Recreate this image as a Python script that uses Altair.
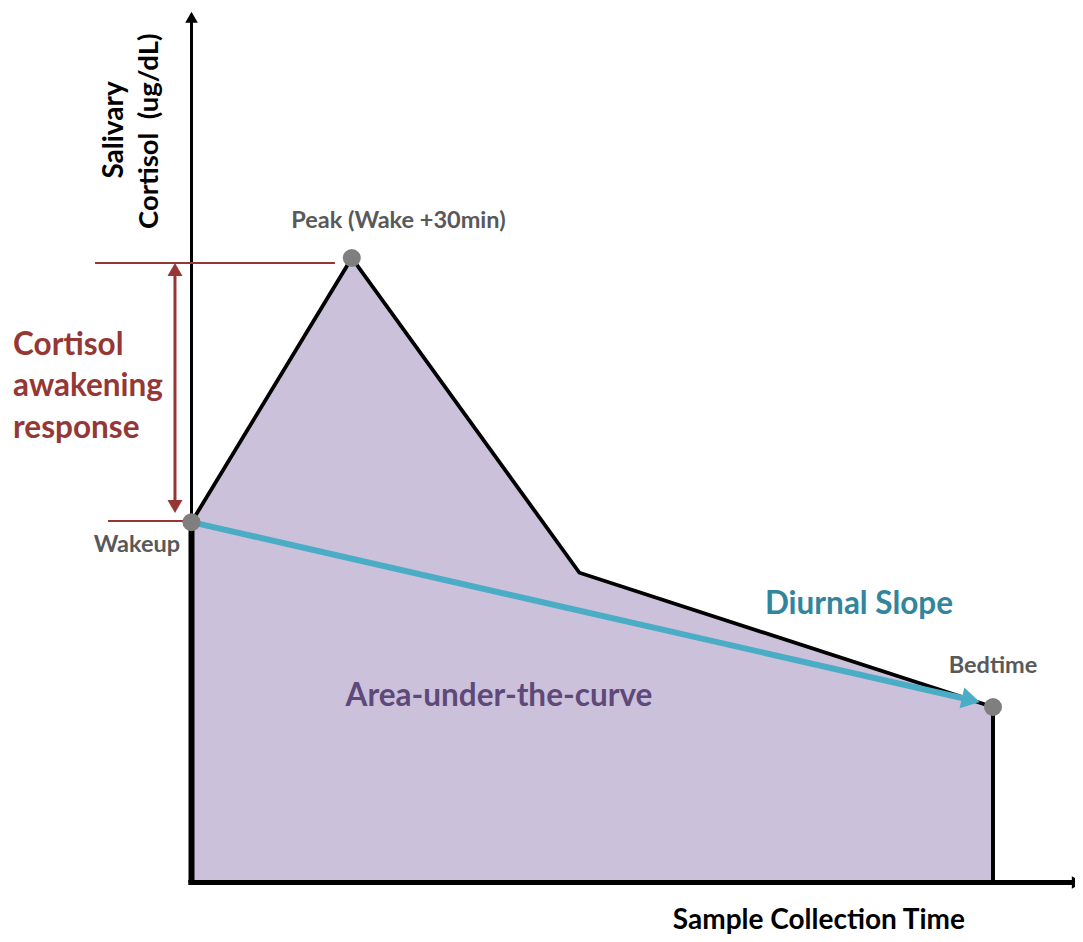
import altair as alt
import pandas as pd

# ---------------- data (schematic units) ----------------
times = [0.0, 1.0, 2.42, 5.0]          # sample collection time (arbitrary units)
cortisol = [5.77, 10.0, 4.96, 2.81]    # salivary cortisol (arbitrary units)
point_names = ["Wakeup", "Peak (Wake +30min)", "", "Bedtime"]
is_sample = [True, True, False, True]

# annotation geometry (data units)
x_axis_end = 5.50
y_axis_end = 13.80
car_x = -0.103                 # cortisol awakening response arrow
car_top = 9.92
car_top_line = [-0.602, 0.895]
car_bottom_line = [-0.521, -0.01]
car_bottom_y = 5.79
slope_head = [4.862, 2.923]

FONT = "Lato"
RED = "#953735"
BLUE = "#4BACC6"

xs = alt.Scale(domain=[-1.1447, 5.5116], nice=False, zero=False)
ys = alt.Scale(domain=[-0.8247, 14.003], nice=False, zero=False)


def X(f="t"):
    return alt.X(f"{f}:Q", scale=xs, axis=None)


def Y(f="c"):
    return alt.Y(f"{f}:Q", scale=ys, axis=None)


def seg(x1, y1, x2, y2, color, width):
    df = pd.DataFrame({"t": [x1], "c": [y1], "t2": [x2], "c2": [y2]})
    return alt.Chart(df).mark_rule(color=color, strokeWidth=width, strokeCap="butt").encode(
        x=X(), y=Y(), x2="t2:Q", y2="c2:Q")


def head(x, y, shape, color, size, angle=0):
    df = pd.DataFrame({"t": [x], "c": [y]})
    kw = dict(shape=shape, filled=True, color=color, size=size, opacity=1, strokeWidth=0)
    if angle:
        kw["angle"] = angle
    return alt.Chart(df).mark_point(**kw).encode(x=X(), y=Y())


def txt(text, x, y, color, size, align="center", angle=0, line_height=None):
    df = pd.DataFrame({"t": [x], "c": [y], "label": [text]})
    kw = dict(align=align, baseline="alphabetic", color=color, fontSize=size,
              font=FONT, fontWeight="bold", lineBreak="\n")
    if angle:
        kw["angle"] = angle
    if line_height:
        kw["lineHeight"] = line_height
    return alt.Chart(df).mark_text(**kw).encode(x=X(), y=Y(), text="label:N")


curve = pd.DataFrame({"t": times, "c": cortisol, "name": point_names, "sample": is_sample})

area = alt.Chart(curve).mark_area(color="#CCC1DA", opacity=1, line=False).encode(
    x=X(), y=Y(), y2=alt.datum(0))
line = alt.Chart(curve).mark_line(color="black", strokeWidth=3.8, strokeJoin="miter").encode(
    x=X(), y=Y())

samples = curve[curve["sample"]]
points = alt.Chart(samples).mark_point(filled=True, color="#7F7F7F", size=324, opacity=1,
                                       shape="circle").encode(x=X(), y=Y())

layers = [
    area,
    # axes
    seg(0, 0, 0, y_axis_end, "black", 3),
    seg(0, 0, 0, cortisol[0], "black", 6),
    seg(-0.02, 0, x_axis_end, 0, "black", 5),
    seg(times[-1], 0, times[-1], cortisol[-1], "black", 4),
    head(0, 13.856, "triangle-up", "black", 160),
    head(5.526, 0, "triangle-right", "black", 160),
    line,
    # diurnal slope arrow
    seg(times[0], cortisol[0], slope_head[0], slope_head[1], BLUE, 6),
    head(slope_head[0], slope_head[1], "triangle-right", BLUE, 450, angle=12.9),
    # cortisol awakening response
    seg(car_top_line[0], car_top, car_top_line[1], car_top, RED, 2),
    seg(car_bottom_line[0], car_bottom_y, car_bottom_line[1], car_bottom_y, RED, 2),
    seg(car_x, 9.75, car_x, 6.09, RED, 3),
    head(car_x, 9.816, "triangle-up", RED, 225),
    head(car_x, 6.021, "triangle-down", RED, 225),
    points,
    # labels
    txt("Peak (Wake +30min)", 1.291, 10.48, "#595959", 23.5),
    txt("Wakeup", -0.340, 5.30, "#595959", 23.5),
    txt("Bedtime", 5.0, 3.35, "#595959", 23.5),
    txt("Diurnal Slope", 4.164, 4.30, "#31859C", 31.5),
    txt("Area-under-the-curve", 1.918, 2.826, "#5F497A", 31.5),
    txt("Sample Collection Time", 3.914, -0.74, "black", 28),
    txt("Cortisol\nawakening\nresponse", -1.113, 8.45, RED, 31.5, align="left", line_height=41.5),
    txt("Salivary", -0.427, 12.05, "black", 28, angle=270),
    txt("Cortisol \u00a0(ug/dL)", -0.209, 12.03, "black", 27.5, angle=270),
]

chart = alt.layer(*layers).properties(
    width=1067, height=926,
    autosize=alt.AutoSizeParams(type="none"),
    padding=0,
    background="white",
).configure_view(stroke=None)

chart.save("out.html", embed_options={"renderer": "svg", "actions": False})
